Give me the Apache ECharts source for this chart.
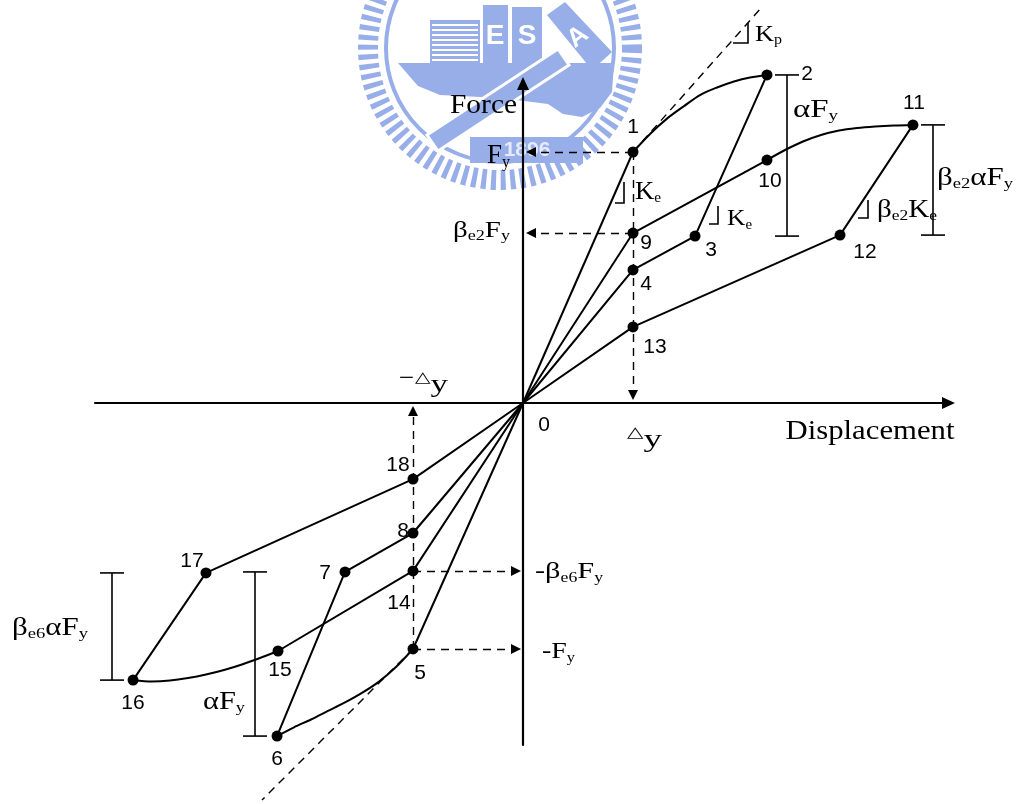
<!DOCTYPE html>
<html>
<head>
<meta charset="utf-8">
<title>Hysteresis model</title>
<script src="https://cdn.jsdelivr.net/npm/echarts@6/dist/echarts.min.js"></script>
<style>
  html, body { margin: 0; padding: 0; background: #fff; }
  #chart { width: 1018px; height: 804px; }
</style>
</head>
<body>
<div id="chart"></div>
<script>
// Loop vertices: displacement in units of Δy, force in units of Fy.
const pointNames  = ['1', '2', '3', '4', '5', '6', '7', '8', '9', '10', '11', '12', '13', '14', '15', '16', '17', '18'];
const dispValues  = [1.000, 2.218, 1.564, 1.000, -1.000, -2.236, -1.618, -1.000, 1.000, 2.218, 3.545, 2.882, 1.000, -1.000, -2.227, -3.545, -2.882, -1.000];
const forceValues = [1.000, 1.307, 0.665, 0.530, -0.980, -1.327, -0.673, -0.518, 0.677, 0.968, 1.108, 0.669, 0.303, -0.669, -0.988, -1.104, -0.677, -0.303];

// Straight branches of the loading path ('0' is the origin).
const straightBranches = [
  ['0', '1'],
  ['2', '3', '4', '0', '5'],
  ['6', '7', '8', '0', '9', '10'],
  ['11', '12', '13', '0', '14', '15'],
  ['16', '17', '18', '0']
];

// Curved (post-yield) branches: interior points between the named ends.
const curve1to2   = [[1.155, 1.072], [1.309, 1.133], [1.464, 1.183], [1.609, 1.227], [1.764, 1.257], [1.918, 1.281], [2.064, 1.297]];
const curve10to11 = [[2.382, 1.008], [2.545, 1.042], [2.709, 1.068], [2.873, 1.086], [3.036, 1.096], [3.200, 1.102], [3.373, 1.106]];
const curve5to6   = [[-1.155, -1.052], [-1.309, -1.110], [-1.464, -1.155], [-1.618, -1.193], [-1.773, -1.227], [-1.927, -1.261], [-2.082, -1.292]];
const curve15to16 = [[-2.391, -1.016], [-2.555, -1.042], [-2.718, -1.064], [-2.882, -1.082], [-3.045, -1.096], [-3.209, -1.106], [-3.373, -1.110]];

// Plastic-stiffness (Kp) tangent ends.
const kpUpperEnd = [2.173, 1.578];
const kpLowerEnd = [-2.373, -1.582];

// ---------------------------------------------------------------- layout
const ORIGIN_PX = [523, 403];
const PX_PER_X = 110;   // pixels per Δy
const PX_PER_Y = 251;   // pixels per Fy
const GRID = { left: 95, right: 69.5, top: 83.5, bottom: 59 };
const W = 1018, H = 804;
const xMin = (GRID.left - ORIGIN_PX[0]) / PX_PER_X;
const xMax = (W - GRID.right - ORIGIN_PX[0]) / PX_PER_X;
const yMax = (ORIGIN_PX[1] - GRID.top) / PX_PER_Y;
const yMin = (ORIGIN_PX[1] - (H - GRID.bottom)) / PX_PER_Y;
const dx = px => px / PX_PER_X;
const dy = px => px / PX_PER_Y;
// pixel position -> data position (annotation geometry only)
const at = (px, py) => [(px - ORIGIN_PX[0]) / PX_PER_X, (ORIGIN_PX[1] - py) / PX_PER_Y];

const P = { '0': [0, 0] };
pointNames.forEach((n, i) => { P[n] = [dispValues[i], forceValues[i]]; });

const SERIF = "'Liberation Serif', 'Times New Roman', serif";
const SANS = "'Liberation Sans', Arial, sans-serif";
const INK = '#000';

// label offsets (px) for the vertex numbers
const labelOffsets = {
  '1': [0, -25], '2': [40, -1], '3': [16, 14], '4': [13, 14], '5': [7, 24], '6': [0, 23],
  '7': [-20, 1], '8': [-10, -2], '9': [13, 10], '10': [3, 21], '11': [1, -22], '12': [25, 17],
  '13': [22, 20], '14': [-14, 32], '15': [2, 19], '16': [0, 23], '17': [-14, -12], '18': [-15, -14]
};

// dashed guide lines with arrow heads pointing at the axes
const guideArrows = [
  [P['1'], [dx(8), P['1'][1]]],
  [P['9'], [dx(8), P['9'][1]]],
  [P['14'], [-dx(7), P['14'][1]]],
  [P['5'], [-dx(7), P['5'][1]]],
  [P['1'], [P['1'][0], dy(8)]],
  [P['5'], [P['5'][0], -dy(8)]]
];

// dimension bars: x position (px) and the two vertices whose force levels they span
const dimBars = [
  { xPx: 787, top: '2', bottom: '3' },
  { xPx: 933, top: '11', bottom: '12' },
  { xPx: 255, top: '7', bottom: '6' },
  { xPx: 112, top: '17', bottom: '16' }
];
const CAP = 12;

// small right-angle slope marks: corner (px), vertical and horizontal leg lengths (px)
const slopeMarks = [
  { c: [624, 203], h: 21, w: 9 },
  { c: [718, 224], h: 18, w: 9 },
  { c: [868, 218], h: 18, w: 10 },
  { c: [748, 43], h: 20, w: 15 }
];

// text annotations: anchor (px), alignment, box width (px), main / subscript sizes
const notes = [
  { p: [517, 106], align: 'right',  w: 67,  m: 27, t: [['m', 'Force']] },
  { p: [870, 432], align: 'center', w: 169, m: 28, t: [['m', 'Displacement']] },
  { p: [627, 440], align: 'left',   w: 35,  m: 26, t: [['tri', '△'], ['m', 'y']] },
  { p: [398, 385], align: 'left',   w: 50,  m: 26, t: [['tri', '−△'], ['m', 'y']] },
  { p: [510, 156], align: 'right',  w: 23,  m: 27, s: 16, t: [['m', 'F'], ['s', 'y']] },
  { p: [510, 231], align: 'right',  w: 57,  m: 24, s: 15, t: [['m', 'β'], ['s', 'e2'], ['m', 'F'], ['s', 'y']] },
  { p: [635, 192], align: 'left',   w: 26,  m: 26, s: 15, t: [['m', 'K'], ['s', 'e']] },
  { p: [727, 219], align: 'left',   w: 25,  m: 24, s: 14, t: [['m', 'K'], ['s', 'e']] },
  { p: [755, 35],  align: 'left',   w: 27,  m: 23, s: 14, t: [['m', 'K'], ['s', 'p']] },
  { p: [793, 110], align: 'left',   w: 45,  m: 26, s: 15, t: [['m', 'αF'], ['s', 'y']] },
  { p: [937, 178], align: 'left',   w: 76,  m: 25, s: 15, t: [['m', 'β'], ['s', 'e2'], ['m', 'αF'], ['s', 'y']] },
  { p: [877, 210], align: 'left',   w: 60,  m: 25, s: 15, t: [['m', 'β'], ['s', 'e2'], ['m', 'K'], ['s', 'e']] },
  { p: [535, 572], align: 'left',   w: 68,  m: 24, s: 14, t: [['m', '-β'], ['s', 'e6'], ['m', 'F'], ['s', 'y']] },
  { p: [542, 652], align: 'left',   w: 33,  m: 24, s: 14, t: [['m', '-F'], ['s', 'y']] },
  { p: [203, 702], align: 'left',   w: 42,  m: 25, s: 15, t: [['m', 'αF'], ['s', 'y']] },
  { p: [12, 628],  align: 'left',   w: 76,  m: 25, s: 15, t: [['m', 'β'], ['s', 'e6'], ['m', 'αF'], ['s', 'y']] }
];
const TRI_FONT = "'DejaVu Sans', sans-serif";

// ---------------------------------------------------------------- emblem (background seal)
const SEAL = '#98aee8';
function emblem() {
  const cx = 500, cy = 48;
  const els = [
    { type: 'circle', shape: { cx, cy, r: 132 }, style: { fill: null, stroke: SEAL, lineWidth: 20, lineDash: [5, 4.6] } },
    { type: 'circle', shape: { cx, cy, r: 114 }, style: { fill: null, stroke: SEAL, lineWidth: 4 } },
    { type: 'polygon', shape: { points: [[398, 63], [614, 63], [612, 92], [600, 108], [582, 117], [563, 114], [548, 104], [500, 98], [440, 95], [418, 86]] }, style: { fill: SEAL } },
    { type: 'rect', shape: { x: 430, y: 20, width: 50, height: 43 }, style: { fill: SEAL } },
    { type: 'rect', shape: { x: 483, y: 5, width: 25, height: 58 }, style: { fill: SEAL } },
    { type: 'rect', shape: { x: 512, y: 7, width: 30, height: 56 }, style: { fill: SEAL } },
    { type: 'polygon', shape: { points: [[547, 15], [565, 2], [612, 52], [592, 70]] }, style: { fill: SEAL } },
    { type: 'text', x: 495, y: 36, style: { text: 'E', fill: '#fff', font: 'bold 28px ' + SANS, align: 'center', verticalAlign: 'middle' } },
    { type: 'text', x: 527, y: 36, style: { text: 'S', fill: '#fff', font: 'bold 28px ' + SANS, align: 'center', verticalAlign: 'middle' } },
    { type: 'text', x: 578, y: 37, rotation: 0.65, style: { text: 'A', fill: '#fff', font: 'bold 26px ' + SANS, align: 'center', verticalAlign: 'middle' } },
    { type: 'polygon', shape: { points: [[427, 135], [558, 49], [569, 65], [438, 151]] }, style: { fill: SEAL, stroke: '#fff', lineWidth: 3 } },
    { type: 'rect', shape: { x: 470, y: 137, width: 113, height: 26 }, style: { fill: SEAL } },
    { type: 'text', x: 527, y: 150, style: { text: '1896', fill: 'rgba(255,255,255,0.75)', font: 'bold 21px ' + SANS, align: 'center', verticalAlign: 'middle' } }
  ];
  for (let y = 24; y < 62; y += 5) {
    els.push({ type: 'rect', shape: { x: 432, y, width: 46, height: 2 }, style: { fill: '#fff' } });
  }
  els.forEach(e => { e.z = -5; e.silent = true; });
  return els;
}

// ---------------------------------------------------------------- annotation text
const measureCtx = document.createElement('canvas').getContext('2d');
function noteElement(n) {
  const sub = n.s || 14;
  const styles = {
    m: { fontFamily: SERIF, fontSize: n.m, lineHeight: n.m + 2, fill: INK, verticalAlign: 'middle' },
    s: { fontFamily: SERIF, fontSize: sub, lineHeight: sub, fill: INK, verticalAlign: 'bottom' },
    tri: { fontFamily: TRI_FONT, fontSize: 15, lineHeight: 16, fill: INK, verticalAlign: 'top' }
  };
  let natural = 0;
  n.t.forEach(([k, s]) => {
    measureCtx.font = styles[k].fontSize + 'px ' + styles[k].fontFamily;
    natural += measureCtx.measureText(s).width;
  });
  return {
    type: 'text', x: n.p[0], y: n.p[1], scaleX: n.w / natural, silent: true, z: 10,
    style: {
      text: n.t.map(([k, s]) => '{' + k + '|' + s + '}').join(''),
      rich: styles, align: n.align, verticalAlign: 'middle', fill: INK
    }
  };
}

// ---------------------------------------------------------------- series
const solid = { color: INK, width: 2 };
const series = [];

straightBranches.forEach(path => {
  series.push({
    type: 'line', data: path.map(n => P[n]), symbol: 'none',
    lineStyle: solid, clip: false, silent: true, z: 3
  });
});

[['1', curve1to2, '2'], ['10', curve10to11, '11'], ['5', curve5to6, '6'], ['15', curve15to16, '16']].forEach(([a, via, b]) => {
  series.push({
    type: 'line', data: [P[a], ...via, P[b]], symbol: 'none', smooth: 0.3,
    lineStyle: solid, clip: false, silent: true, z: 3
  });
});

const dashed = { color: INK, width: 1.4, type: [8, 6], opacity: 1 };

series.push({
  type: 'lines', coordinateSystem: 'cartesian2d', silent: true, clip: false, z: 2,
  symbol: ['none', 'triangle'], symbolSize: 10,
  lineStyle: dashed,
  data: guideArrows.map(c => ({ coords: c }))
});

series.push({
  type: 'lines', coordinateSystem: 'cartesian2d', silent: true, clip: false, z: 2,
  symbol: 'none', lineStyle: dashed,
  data: [{ coords: [P['1'], kpUpperEnd] }, { coords: [P['5'], kpLowerEnd] }]
});

const barSegs = [];
dimBars.forEach(b => {
  const x = at(b.xPx, 0)[0];
  const y1 = P[b.top][1], y2 = P[b.bottom][1];
  barSegs.push({ coords: [[x, y1], [x, y2]] });
  barSegs.push({ coords: [[x - dx(CAP), y1], [x + dx(CAP), y1]] });
  barSegs.push({ coords: [[x - dx(CAP), y2], [x + dx(CAP), y2]] });
});
slopeMarks.forEach(m => {
  const c = at(m.c[0], m.c[1]);
  barSegs.push({ coords: [[c[0], c[1] + dy(m.h)], c, [c[0] - dx(m.w), c[1]]] });
});
series.push({
  type: 'lines', coordinateSystem: 'cartesian2d', polyline: true, silent: true, clip: false, z: 3,
  symbol: 'none', lineStyle: { color: INK, width: 1.6, opacity: 1 },
  data: barSegs
});

series.push({
  type: 'scatter', silent: true, clip: false, z: 5,
  symbol: 'circle', symbolSize: 11, itemStyle: { color: INK, opacity: 1 },
  label: {
    show: true, position: 'inside', formatter: '{b}',
    color: INK, fontFamily: SANS, fontSize: 21, opacity: 1
  },
  data: pointNames.map(n => ({ name: n, value: P[n], label: { offset: labelOffsets[n] } }))
});

// origin label
series.push({
  type: 'scatter', silent: true, clip: false, z: 5,
  symbol: 'circle', symbolSize: 1, itemStyle: { color: 'rgba(0,0,0,0)', opacity: 1 },
  label: { show: true, position: 'inside', formatter: '{b}', color: INK, fontFamily: SANS, fontSize: 21, opacity: 1, offset: [21, 22] },
  data: [{ name: '0', value: P['0'] }]
});

const axisCommon = {
  type: 'value',
  axisTick: { show: false },
  axisLabel: { show: false },
  splitLine: { show: false }
};

const option = {
  backgroundColor: '#fff',
  animation: false,
  grid: { left: GRID.left, right: GRID.right, top: GRID.top, bottom: GRID.bottom, containLabel: false },
  xAxis: Object.assign({}, axisCommon, {
    min: xMin, max: xMax,
    axisLine: { onZero: true, symbol: ['none', 'triangle'], symbolSize: [12, 13], lineStyle: { color: INK, width: 2.2 } }
  }),
  yAxis: Object.assign({}, axisCommon, {
    min: yMin, max: yMax,
    axisLine: { onZero: true, symbol: ['none', 'triangle'], symbolSize: [12, 13], lineStyle: { color: INK, width: 2.2 } }
  }),
  graphic: { elements: emblem().concat(notes.map(noteElement)) },
  series
};

const chart = echarts.init(document.getElementById('chart'), null, { renderer: 'canvas' });
chart.setOption(option);
</script>
</body>
</html>
